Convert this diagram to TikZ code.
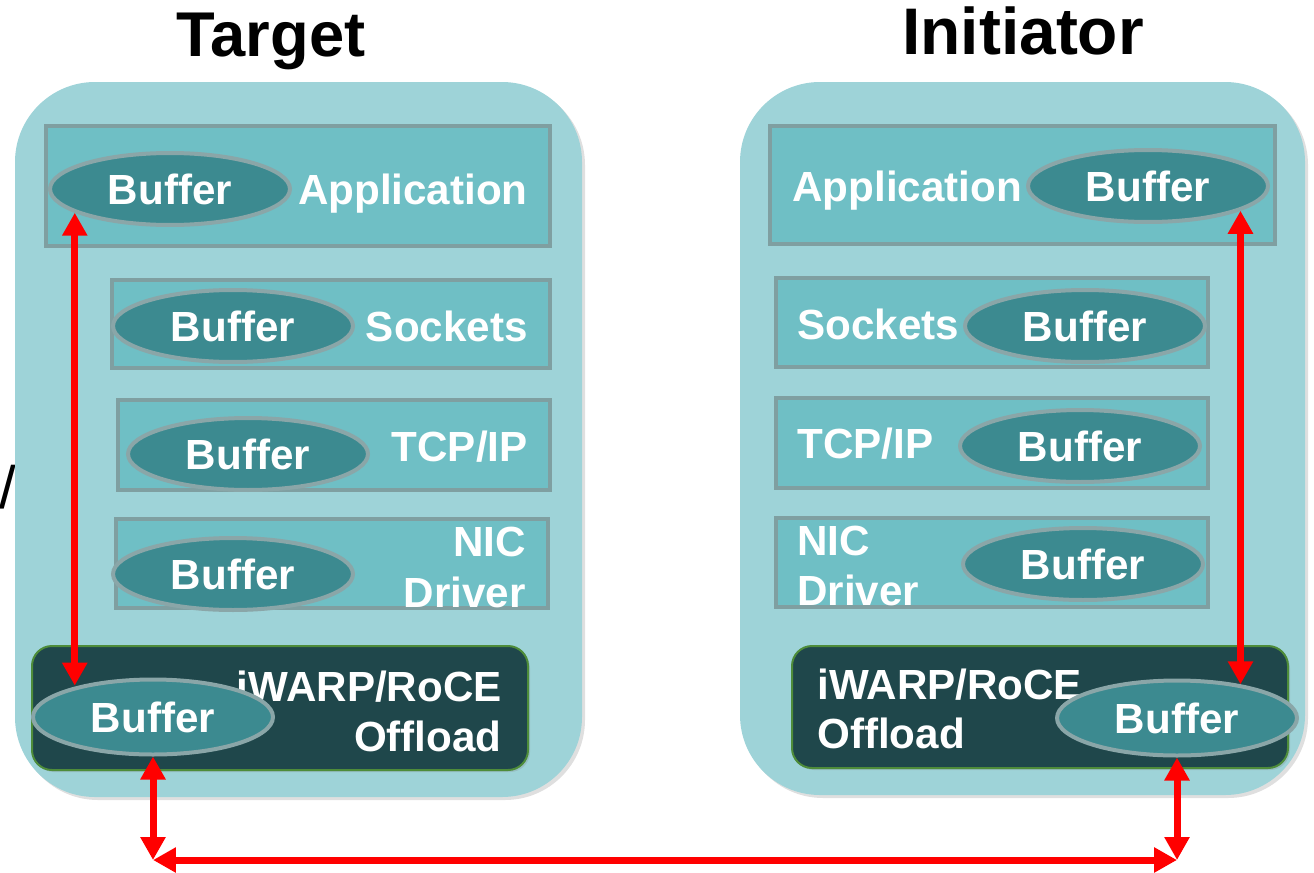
\documentclass[tikz,border=0pt]{standalone}
\usepackage{fontspec}
\setmainfont{Liberation Sans}
\usetikzlibrary{shapes.geometric,arrows.meta,shadows}
\definecolor{contfill}{HTML}{9ED3D8}
\definecolor{layfill}{HTML}{6FBFC5}
\definecolor{laydraw}{HTML}{7F9FA1}
\definecolor{buffill}{HTML}{3C8A90}
\definecolor{bufdraw}{HTML}{8AA6A8}
\definecolor{offfill}{HTML}{1F474B}
\definecolor{offdraw}{HTML}{4E8C3A}
\tikzset{
  cont/.style={fill=contfill, draw=none, rounded corners=1.6cm,
    drop shadow={opacity=0.25, shadow xshift=0.06cm, shadow yshift=-0.06cm}},
  layer/.style={fill=layfill, draw=laydraw, line width=0.08cm},
  offbox/.style={fill=offfill, draw=offdraw, line width=0.04cm, rounded corners=0.4cm,
    drop shadow={opacity=0.25, shadow xshift=0.04cm, shadow yshift=-0.04cm}},
  buf/.style={ellipse, fill=buffill, draw=bufdraw, line width=0.08cm,
    minimum width=4.8cm, minimum height=1.44cm, inner sep=0pt,
    text=white, font=\fontsize{24}{28}\selectfont\bfseries},
  lbl/.style={text=white, font=\fontsize{24}{28}\selectfont\bfseries, inner sep=0pt},
  ttl/.style={text=black, inner sep=0pt, anchor=base},
  dbl/.style={draw=red, line width=0.14cm,
    {Triangle[length=0.46cm,width=0.48cm]}-{Triangle[length=0.46cm,width=0.48cm]}},
}
\begin{document}
\begin{tikzpicture}[x=0.02cm, y=-0.02cm]
\useasboundingbox (0,0) rectangle (1314,872);
% titles
\node[ttl, font=\fontsize{36}{40}\selectfont\bfseries] (tTarget) at (271,56) {Target};
\node[ttl, font=\fontsize{37.5}{40}\selectfont\bfseries] (tInit) at (1023,54) {Initiator};
\node[text=black, font=\fontsize{34}{38}\selectfont, inner sep=0pt, anchor=base] (slash) at (8,508) {/};
% containers
\path[cont] (15,82) rectangle (582,797);
\path[cont] (740,82) rectangle (1305,795);
% left layers
\draw[layer] (46,126) rectangle (550,246);
\draw[layer] (112,280) rectangle (550,368);
\draw[layer] (118,400) rectangle (550,490);
\draw[layer] (116,519) rectangle (548,608);
\path[offbox] (32,646) rectangle (528,770);
% right layers
\draw[layer] (770,126) rectangle (1275,244);
\draw[layer] (776,278) rectangle (1208,367);
\draw[layer] (776,398) rectangle (1208,488);
\draw[layer] (776,518) rectangle (1208,607);
\path[offbox] (792,646) rectangle (1288,768);
% left labels
\node[lbl, anchor=base east] (lApp) at (528,204) {Application};
\node[lbl, anchor=base east] (lSock) at (528,341) {Sockets};
\node[lbl, anchor=base east] (lTcp) at (528,461) {TCP/IP};
\node[lbl, anchor=base east] (lNic) at (526,556) {NIC};
\node[lbl, anchor=base east] (lDrv) at (526,607) {Driver};
\node[lbl, anchor=base east] (lIw) at (502,701) {iWARP/RoCE};
\node[lbl, anchor=base east] (lOff) at (502,751) {Offload};
% right labels
\node[lbl, anchor=base west] (rApp) at (792,201) {Application};
\node[lbl, anchor=base west] (rSock) at (797,339) {Sockets};
\node[lbl, anchor=base west] (rTcp) at (797,458) {TCP/IP};
\node[lbl, anchor=base west] (rNic) at (797,555) {NIC};
\node[lbl, anchor=base west] (rDrv) at (797,605) {Driver};
\node[lbl, anchor=base west] (rIw) at (817,699) {iWARP/RoCE};
\node[lbl, anchor=base west] (rOff) at (817,748) {Offload};
% left buffers
\node[buf] (lab) at (170,189) {Buffer};
\node[buf] (lsb) at (233,326) {Buffer};
\node[buf] (ltb) at (248,454) {Buffer};
\node[buf] (lnb) at (233,574) {Buffer};
\node[buf, minimum height=1.5cm] (lob) at (153,717) {Buffer};
% right buffers
\node[buf] (rab) at (1148,186) {Buffer};
\node[buf] (rsb) at (1085,326) {Buffer};
\node[buf] (rtb) at (1080,446) {Buffer};
\node[buf] (rnb) at (1083,564) {Buffer};
\node[buf, minimum height=1.5cm] (rob) at (1177,718) {Buffer};
% arrows
\coordinate (bl) at (lob.south |- 0,860);
\coordinate (br) at (rob.south |- 0,860);
\draw[dbl] (lab.194.8) -- (lab.194.8 |- lob.157.7);
\draw[dbl] (rab.-15.2) -- (rab.-15.2 |- rob.28.8);
\draw[dbl] (lob.south) -- (bl);
\draw[dbl] (rob.south) -- (br);
\draw[dbl] (bl) -- (br);
\end{tikzpicture}
\end{document}
